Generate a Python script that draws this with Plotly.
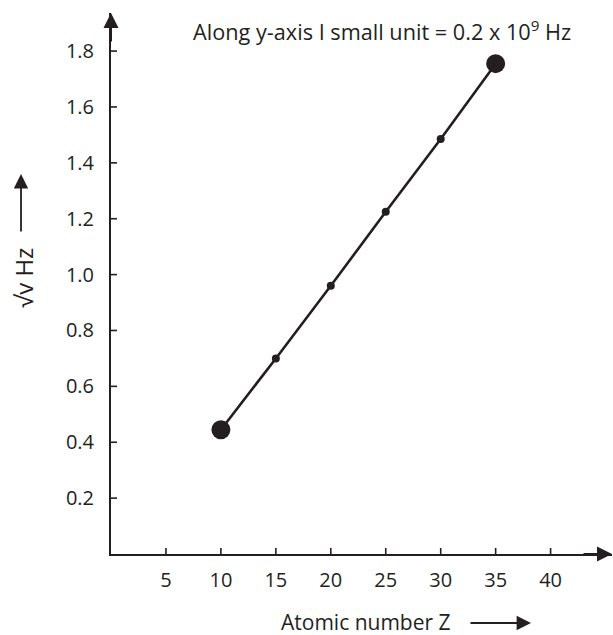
import plotly.graph_objects as go

# Data
atomic_number = [10, 15, 20, 25, 30, 35]
sqrt_freq = [0.445, 0.70, 0.96, 1.225, 1.485, 1.755]
marker_sizes = [19, 8, 8, 8, 8, 19]
x_tick_vals = [5, 10, 15, 20, 25, 30, 35, 40]
y_tick_vals = [0.2, 0.4, 0.6, 0.8, 1.0, 1.2, 1.4, 1.6, 1.8]
y_tick_text = ["0.2", "0.4", "0.6", "0.8", "1.0", "1.2", "1.4", "1.6", "1.8"]

INK = "#231f20"
FONT = "Open Sans"

W, H = 613, 635
ML, MR, MT, MB = 111, 1, 13, 81
PW, PH = W - ML - MR, H - MT - MB
X_SCALE = 10.99
Y_SCALE = 279.4
x_max = PW / X_SCALE
y_max = PH / Y_SCALE


def px(x):
    return (x - ML) / PW


def py(y):
    return (H - MB - y) / PH


fig = go.Figure()
fig.add_trace(go.Scatter(
    x=atomic_number, y=sqrt_freq, mode="lines+markers",
    line=dict(color=INK, width=2.6),
    marker=dict(color=INK, size=marker_sizes, opacity=1, line=dict(width=0)),
    showlegend=False, hoverinfo="skip", cliponaxis=False,
))

shapes = []
for v in x_tick_vals:
    shapes.append(dict(type="line", xref="x", yref="y", x0=v, x1=v,
                       ysizemode="pixel", yanchor=0, y0=-6, y1=6,
                       line=dict(color=INK, width=1.6)))
for v in y_tick_vals:
    shapes.append(dict(type="line", xref="x", yref="y", y0=v, y1=v,
                       xsizemode="pixel", xanchor=0, x0=-6, x1=6,
                       line=dict(color=INK, width=1.6)))

annotations = [
    # axis arrowheads
    dict(xref="paper", yref="paper", x=1, y=0, ax=-30, ay=0, text="",
         showarrow=True, arrowhead=2, arrowsize=1.5, arrowwidth=2, arrowcolor=INK,
         standoff=0),
    dict(xref="paper", yref="paper", x=0, y=1, ax=0, ay=30, text="",
         showarrow=True, arrowhead=2, arrowsize=1.5, arrowwidth=2, arrowcolor=INK,
         standoff=0),
    # title
    dict(xref="paper", yref="paper", x=px(191), y=py(31), xanchor="left", yanchor="middle",
         text="Along y-axis I small unit = 0.2 x 10<sup>9</sup> Hz", showarrow=False,
         font=dict(family=FONT, size=21.7, color=INK)),
    # x title
    dict(xref="paper", yref="paper", x=px(366), y=py(622), xanchor="center", yanchor="middle",
         text="Atomic number Z", showarrow=False,
         font=dict(family=FONT, size=21, color=INK)),
    dict(xref="paper", yref="paper", x=px(531), y=py(623), ax=-62, ay=0, text="",
         showarrow=True, arrowhead=2, arrowsize=1.6, arrowwidth=1.8, arrowcolor=INK,
         standoff=0),
    # y title
    dict(xref="paper", yref="paper", x=px(23), y=py(278), xanchor="center", yanchor="middle",
         text="√v Hz", textangle=-90, showarrow=False,
         font=dict(family=FONT, size=24, color=INK)),
    dict(xref="paper", yref="paper", x=px(21), y=py(174), ax=0, ay=59, text="",
         showarrow=True, arrowhead=2, arrowsize=1.6, arrowwidth=1.8, arrowcolor=INK,
         standoff=0),
]

fig.update_layout(
    width=W, height=H,
    margin=dict(l=ML, r=MR, t=MT, b=MB, pad=0),
    paper_bgcolor="white", plot_bgcolor="white",
    font=dict(family=FONT, size=20, color=INK),
    shapes=shapes, annotations=annotations,
    xaxis=dict(range=[0, x_max], showgrid=False, zeroline=False,
               showline=True, linecolor=INK, linewidth=2,
               tickmode="array", tickvals=x_tick_vals,
               ticks="outside", ticklen=7, tickcolor="rgba(0,0,0,0)",
               tickfont=dict(family=FONT, size=20, color=INK)),
    yaxis=dict(range=[0, y_max], showgrid=False, zeroline=False,
               showline=True, linecolor=INK, linewidth=2,
               tickmode="array", tickvals=y_tick_vals, ticktext=y_tick_text,
               ticks="outside", ticklen=11, tickcolor="rgba(0,0,0,0)",
               tickfont=dict(family=FONT, size=20, color=INK)),
)

fig.write_html("out.html", config={"displayModeBar": False},
               post_script="document.body.style.margin='0';")
